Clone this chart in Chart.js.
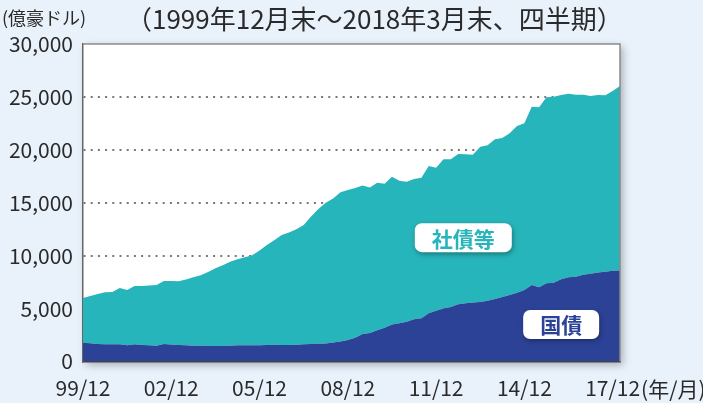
<!DOCTYPE html>
<html>
<head>
<meta charset="utf-8">
<script src="https://cdn.jsdelivr.net/npm/chart.js@4"></script>
<style>
  html, body { margin:0; padding:0; background:#E9F1FA; }
  #wrap { width:703px; height:403px; position:relative; }
</style>
</head>
<body>
<div id="wrap"><canvas id="chart" width="703" height="403"></canvas></div>
<script>
// quarterly, 1999/12 .. 2018/03
const quarters = [
  "99/12","00/03","00/06","00/09","00/12","01/03","01/06","01/09","01/12",
  "02/03","02/06","02/09","02/12","03/03","03/06","03/09","03/12",
  "04/03","04/06","04/09","04/12","05/03","05/06","05/09","05/12",
  "06/03","06/06","06/09","06/12","07/03","07/06","07/09","07/12",
  "08/03","08/06","08/09","08/12","09/03","09/06","09/09","09/12",
  "10/03","10/06","10/09","10/12","11/03","11/06","11/09","11/12",
  "12/03","12/06","12/09","12/12","13/03","13/06","13/09","13/12",
  "14/03","14/06","14/09","14/12","15/03","15/06","15/09","15/12",
  "16/03","16/06","16/09","16/12","17/03","17/06","17/09","17/12","18/03"
];
const tickLabels = ["99/12","02/12","05/12","08/12","11/12","14/12","17/12"];
const yTicks = [0, 5000, 10000, 15000, 20000, 25000, 30000];

// 国債 (government bonds)
const govt = [
  1780,1720,1650,1640,1630,1620,1530,1620,1560,1530,1500,1650,1600,1560,1540,1500,
  1490,1480,1460,1480,1500,1530,1530,1530,1530,1570,1590,1560,1570,1590,1620,1650,
  1680,1710,1800,1900,2030,2250,2600,2700,2950,3200,3500,3620,3750,4000,4080,4550,
  4800,5000,5150,5400,5500,5580,5620,5750,5900,6100,6280,6500,6760,7230,7010,7390,
  7450,7770,7960,8010,8200,8300,8400,8490,8580,8600
];
// total outstanding (国債 + 社債等)
const total = [
  6000,6200,6380,6550,6570,6950,6760,7130,7130,7180,7230,7600,7600,7580,7750,7950,
  8150,8450,8800,9100,9430,9650,9850,10050,10500,11000,11450,11950,12200,12500,12900,13700,
  14400,15000,15400,16000,16200,16400,16620,16430,16900,16800,17460,17090,16990,17250,17370,18470,
  18310,19110,19110,19610,19580,19540,20300,20430,21000,21120,21560,22250,22510,24080,24020,24970,
  25020,25180,25310,25210,25210,25090,25180,25150,25560,26030
];

const TEAL = "#26B5BA", NAVY = "#2C4296", TXT = "#2a2a2a";
const FONT = "'Noto Sans CJK JP', 'Noto Sans', sans-serif";

// area labels: [text, x category index, y value, color]
const areaLabels = [
  ["社債等", 51.7, 11700, TEAL],
  ["国債", 65, 3500, NAVY]
];

function roundRect(ctx, x, y, w, h, r) {
  ctx.beginPath();
  ctx.moveTo(x+r, y);
  ctx.arcTo(x+w, y, x+w, y+h, r);
  ctx.arcTo(x+w, y+h, x, y+h, r);
  ctx.arcTo(x, y+h, x, y, r);
  ctx.arcTo(x, y, x+w, y, r);
  ctx.closePath();
}

const framePlugin = {
  id: "frame",
  beforeDraw(chart) {
    const {ctx, chartArea:a} = chart;
    ctx.save();
    ctx.shadowColor = "rgba(0,0,0,0.28)";
    ctx.shadowBlur = 8; ctx.shadowOffsetX = 3; ctx.shadowOffsetY = 3;
    ctx.fillStyle = "#fff";
    ctx.fillRect(a.left, a.top, a.right-a.left, a.bottom-a.top);
    ctx.restore();
  },
  afterDraw(chart) {
    const {ctx, chartArea:a, scales} = chart;
    ctx.save();
    // top and right frame
    ctx.strokeStyle = "#8a8a8a"; ctx.lineWidth = 1.5;
    ctx.beginPath();
    ctx.moveTo(a.left, a.top); ctx.lineTo(a.right, a.top); ctx.lineTo(a.right, a.bottom);
    ctx.stroke();

    // area label boxes
    areaLabels.forEach(([t, xi, yv, col]) => {
      const cx = scales.x.getPixelForValue(xi), cy = scales.y.getPixelForValue(yv);
      ctx.font = "bold 21px " + FONT;
      const w = ctx.measureText(t).width + 34, h = 29;
      ctx.save();
      ctx.shadowColor = "rgba(0,0,0,0.35)"; ctx.shadowBlur = 5; ctx.shadowOffsetX = 1; ctx.shadowOffsetY = 2;
      ctx.fillStyle = "#fff";
      roundRect(ctx, cx-w/2, cy-h/2, w, h, 7);
      ctx.fill();
      ctx.restore();
      ctx.fillStyle = col; ctx.textAlign = "center"; ctx.textBaseline = "middle";
      ctx.fillText(t, cx, cy+1);
    });

    // titles
    ctx.fillStyle = TXT; ctx.textAlign = "left"; ctx.textBaseline = "middle";
    ctx.font = "18px " + FONT;
    ctx.fillText("(億豪ドル)", 2, 18);
    ctx.font = "26px " + FONT;
    ctx.fillText("（1999年12月末～2018年3月末、四半期）", 126, 19);
    // unit after last x tick
    const lastX = scales.x.getPixelForValue(quarters.indexOf("17/12"));
    ctx.font = "21px " + FONT;
    const lw = ctx.measureText("17/12").width;
    ctx.fillText("(年/月)", lastX + lw/2 + 1, 389);
    ctx.restore();
  }
};

new Chart(document.getElementById("chart"), {
  type: "line",
  data: {
    labels: quarters,
    datasets: [
      { label: "国債", data: govt, fill: "origin", backgroundColor: NAVY, borderWidth: 0, pointRadius: 0, tension: 0 },
      { label: "合計", data: total, fill: "-1", backgroundColor: TEAL, borderWidth: 0, pointRadius: 0, tension: 0 }
    ]
  },
  options: {
    responsive: false,
    animation: false,
    layout: { padding: { top: 44, right: 83, left: 0, bottom: 0 } },
    plugins: { legend: { display: false }, tooltip: { enabled: false } },
    scales: {
      x: {
        type: "category",
        offset: false,
        afterFit(s) { s.height = 41.5; },
        grid: { display: false, drawTicks: false },
        border: { display: true, color: "#444", width: 1.5 },
        ticks: {
          autoSkip: false, maxRotation: 0, padding: 14,
          color: TXT, font: { family: FONT, size: 21 },
          callback(v) { const l = quarters[v]; return tickLabels.includes(l) ? l : ""; }
        }
      },
      y: {
        min: 0, max: 30000,
        afterFit(s) { s.width = 83; },
        afterBuildTicks(s) { s.ticks = yTicks.map(v => ({ value: v })); },
        grid: {
          drawTicks: false, lineWidth: 2,
          color(c) { const v = c.tick && c.tick.value; return (v === 0 || v === 30000) ? "rgba(0,0,0,0)" : "#777"; }
        },
        border: { display: true, color: "#666", width: 1.5, dash: [2, 5.2] },
        ticks: {
          padding: 10, color: TXT, font: { family: FONT, size: 21 },
          callback(v) { return v.toLocaleString("en-US"); }
        }
      }
    }
  },
  plugins: [framePlugin]
});
</script>
</body>
</html>
